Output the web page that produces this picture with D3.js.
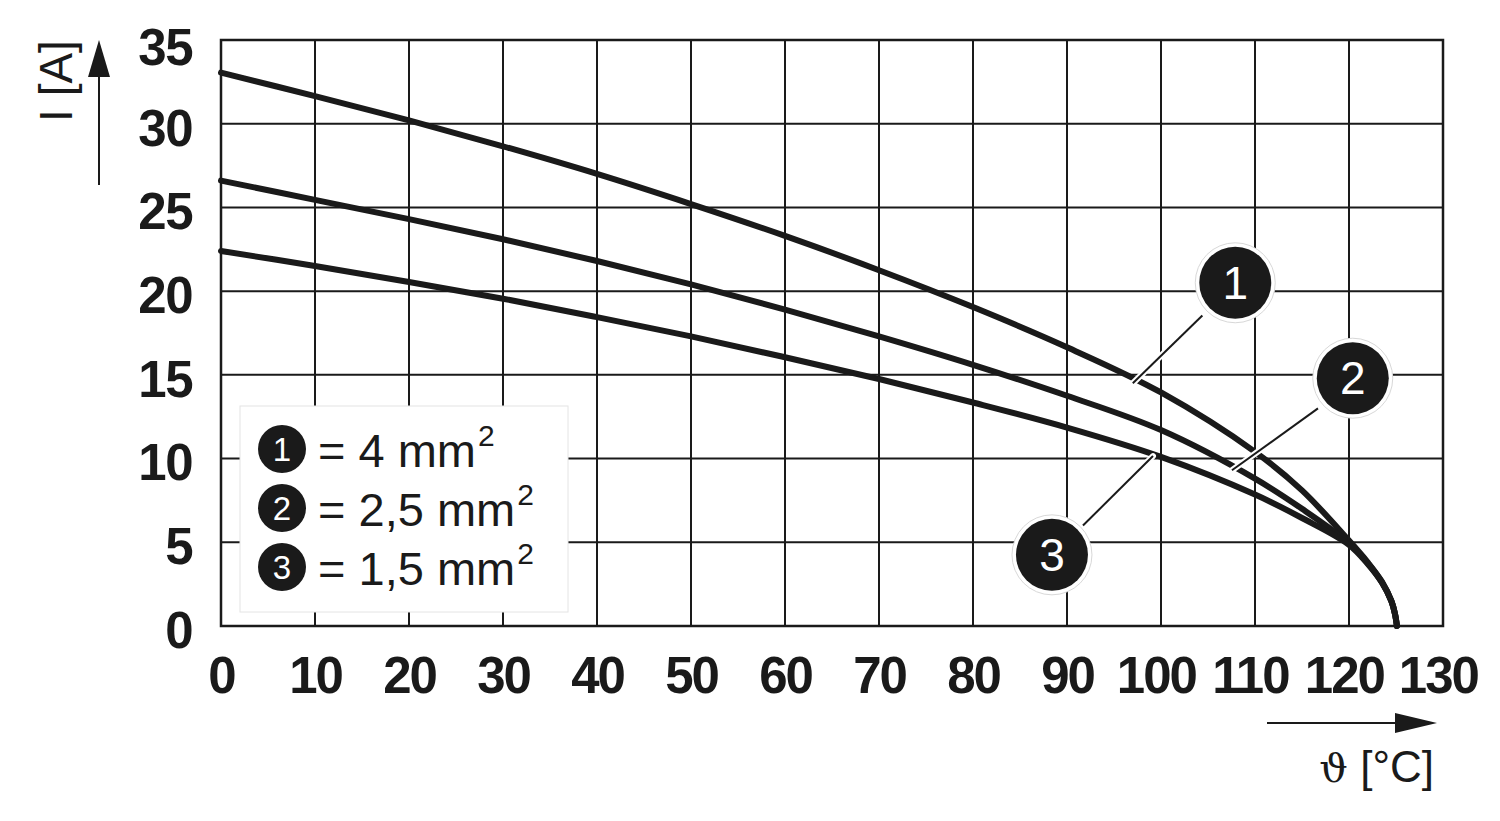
<!DOCTYPE html>
<html>
<head>
<meta charset="utf-8">
<script src="https://cdn.jsdelivr.net/npm/d3@7"></script>
<style>
  html, body { margin: 0; padding: 0; background: #fff; }
  svg { display: block; }
  text { font-family: "Liberation Sans", Arial, Helvetica, sans-serif; }
</style>
</head>
<body>
<svg id="chart" width="1500" height="821"></svg>
<script>
// ---- data ----
const temps       = [0, 10, 20, 30, 40, 50, 60, 70, 80, 90, 100, 110, 115, 120, 122, 123.5, 124.5, 124.9, 125.1];
const current4mm  = [33.05, 31.65, 30.2, 28.65, 27.0, 25.2, 23.3, 21.25, 19.05, 16.65, 13.95, 10.4, 8.1, 5.1, 3.8, 2.65, 1.5, 0.7, 0];
const current25mm = [26.6, 25.45, 24.3, 23.1, 21.8, 20.4, 18.9, 17.3, 15.6, 13.75, 11.7, 8.8, 7.0, 4.95, 3.75, 2.6, 1.5, 0.7, 0];
const current15mm = [22.4, 21.5, 20.55, 19.55, 18.45, 17.3, 16.05, 14.75, 13.35, 11.85, 10.1, 7.85, 6.45, 4.85, 3.7, 2.6, 1.5, 0.7, 0];
const seriesIds   = ["1", "2", "3"];
const legendSizes = ["4", "2,5", "1,5"];
const xTicks = [0, 10, 20, 30, 40, 50, 60, 70, 80, 90, 100, 110, 120, 130];
const yTicks = [0, 5, 10, 15, 20, 25, 30, 35];
// callout badge positions (data units) and leader lines (data units)
const badgeT = [107.9, 120.4, 88.4];
const badgeI = [20.5, 14.8, 4.25];
const leaderFromT = [104.4, 116.7, 91.7];
const leaderFromI = [18.55, 13.0, 6.0];
const leaderToT   = [97.0, 107.55, 99.15];
const leaderToI   = [14.5, 9.3, 10.15];

// ---- layout ----
const svg = d3.select("#chart");
const x = d3.scaleLinear().domain([0, 130]).range([221, 1443]);
const y = d3.scaleLinear().domain([0, 35]).range([626, 40]);
const ink = "#1a1a1a";

// grid
const g = svg.append("g");
g.selectAll("line.v").data(xTicks).join("line")
  .attr("x1", d => x(d)).attr("x2", d => x(d))
  .attr("y1", y(35)).attr("y2", y(0))
  .attr("stroke", ink).attr("stroke-width", 2);
g.selectAll("line.h").data(yTicks).join("line")
  .attr("y1", d => y(d)).attr("y2", d => y(d))
  .attr("x1", x(0)).attr("x2", x(130))
  .attr("stroke", ink).attr("stroke-width", 2);
g.append("rect").attr("x", x(0)).attr("y", y(35))
  .attr("width", x(130) - x(0)).attr("height", y(0) - y(35))
  .attr("fill", "none").attr("stroke", ink).attr("stroke-width", 2.5);

// axis tick labels via d3 axes
const yAxis = svg.append("g").attr("transform", `translate(${x(0) - 29},0)`)
  .call(d3.axisLeft(y).tickValues(yTicks).tickSize(0).tickPadding(0));
yAxis.select(".domain").remove();
yAxis.selectAll("text").attr("font-size", 51).attr("font-weight", "bold")
  .attr("fill", ink).attr("font-family", "Liberation Sans, Arial, sans-serif")
  .attr("letter-spacing", "-1.5")
  .attr("dy", d => d === 35 ? "0.48em" : "0.42em");

const xAxis = svg.append("g").attr("transform", `translate(0,${y(0) + 29})`)
  .call(d3.axisBottom(x).tickValues(xTicks).tickSize(0).tickPadding(0));
xAxis.select(".domain").remove();
xAxis.selectAll("text").attr("font-size", 51).attr("font-weight", "bold")
  .attr("fill", ink).attr("font-family", "Liberation Sans, Arial, sans-serif")
  .attr("dy", "0.74em").attr("letter-spacing", "-2")
  .attr("dx", d => d >= 100 ? "-0.1em" : "0");

// legend box
svg.append("rect").attr("x", 240).attr("y", 406).attr("width", 328).attr("height", 206)
  .attr("fill", "#fff").attr("stroke", "#e4e4e4").attr("stroke-width", 1);

// curves
const seriesData = [current4mm, current25mm, current15mm];
const line = d3.line().x(d => x(d[0])).y(d => y(d[1])).curve(d3.curveCatmullRom.alpha(0.5));
svg.append("g").selectAll("path").data(seriesData).join("path")
  .attr("d", vals => line(temps.map((t, i) => [t, vals[i]])))
  .attr("fill", "none").attr("stroke", ink).attr("stroke-width", 6)
  .attr("stroke-linecap", "round").attr("stroke-linejoin", "round");

// leader lines
const leaders = svg.append("g");
seriesIds.forEach((id, i) => {
  leaders.append("line")
    .attr("x1", x(leaderFromT[i])).attr("y1", y(leaderFromI[i]))
    .attr("x2", x(leaderToT[i])).attr("y2", y(leaderToI[i]))
    .attr("stroke", "#fff").attr("stroke-width", 6).attr("stroke-linecap", "round");
  leaders.append("line")
    .attr("x1", x(leaderFromT[i])).attr("y1", y(leaderFromI[i]))
    .attr("x2", x(leaderToT[i])).attr("y2", y(leaderToI[i]))
    .attr("stroke", ink).attr("stroke-width", 2);
});

// badges on chart
const badges = svg.append("g");
seriesIds.forEach((id, i) => {
  const cx = x(badgeT[i]), cy = y(badgeI[i]);
  badges.append("circle").attr("cx", cx).attr("cy", cy).attr("r", 40)
    .attr("fill", "#fff").attr("stroke", "#d8d8d8").attr("stroke-width", 1);
  badges.append("circle").attr("cx", cx).attr("cy", cy).attr("r", 36)
    .attr("fill", ink);
  badges.append("text").attr("x", cx).attr("y", cy + 16)
    .attr("text-anchor", "middle").attr("font-size", 46).attr("fill", "#fff")
    .text(id);
});

// legend entries
const leg = svg.append("g");
seriesIds.forEach((id, i) => {
  const base = 467 + i * 59;
  leg.append("circle").attr("cx", 282).attr("cy", base - 18).attr("r", 24).attr("fill", ink);
  leg.append("text").attr("x", 282).attr("y", base - 6)
    .attr("text-anchor", "middle").attr("font-size", 33).attr("fill", "#fff").text(id);
  const t = leg.append("text").attr("x", 318).attr("y", base)
    .attr("font-size", 47).attr("fill", ink);
  t.append("tspan").text(`= ${legendSizes[i]} mm`);
  t.append("tspan").attr("font-size", 30).attr("dx", 2).attr("dy", -21).text("2");
});

// y-axis title and arrow
svg.append("text").attr("transform", "translate(72,81) rotate(-90)")
  .attr("text-anchor", "middle").attr("font-size", 46).attr("fill", ink)
  .text("I [A]");
svg.append("line").attr("x1", 99).attr("x2", 99).attr("y1", 185).attr("y2", 74)
  .attr("stroke", ink).attr("stroke-width", 2);
svg.append("path").attr("d", "M99,40 L88,77 L110,77 Z").attr("fill", ink);

// x-axis title and arrow
svg.append("line").attr("x1", 1267).attr("x2", 1398).attr("y1", 723).attr("y2", 723)
  .attr("stroke", ink).attr("stroke-width", 2);
svg.append("path").attr("d", "M1437,723 L1395,713 L1395,733 Z").attr("fill", ink);
const xt = svg.append("text").attr("x", 1434).attr("y", 782)
  .attr("text-anchor", "end").attr("font-size", 44).attr("fill", ink);
xt.append("tspan").attr("font-family", "DejaVu Serif, serif").attr("font-size", 40).text("ϑ");
xt.append("tspan").text(" [°C]");
</script>
</body>
</html>
